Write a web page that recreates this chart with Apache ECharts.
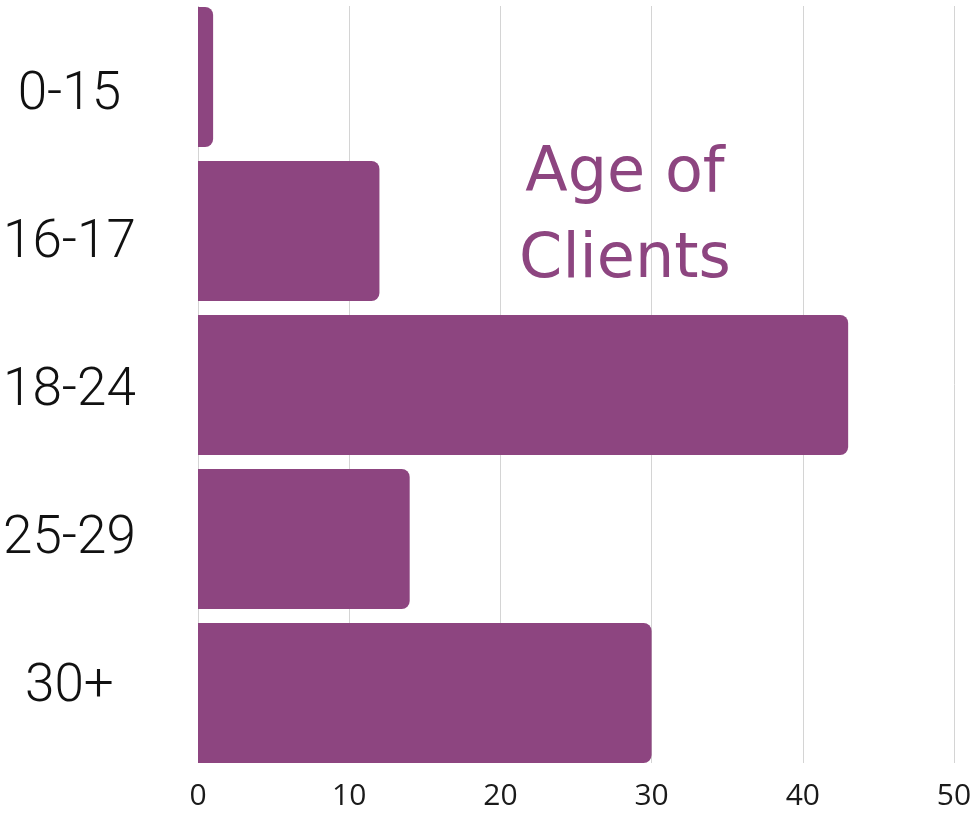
<!DOCTYPE html>
<html>
<head>
<meta charset="utf-8">
<script src="https://cdn.jsdelivr.net/npm/echarts@6/dist/echarts.min.js"></script>
<style>html,body{margin:0;padding:0;background:#fff}#c{width:977px;height:814px}</style>
</head>
<body>
<div id="c"></div>
<script>
const categories = ['0-15', '16-17', '18-24', '25-29', '30+'];
const clients = [1, 12, 43, 14, 30];
const xTicks = [0, 10, 20, 30, 40, 50];
const titleText = 'Age of\nClients';

const purple = '#8D4580';
const chart = echarts.init(document.getElementById('c'), null, {renderer: 'canvas'});
chart.setOption({
  animation: false,
  backgroundColor: '#fff',
  title: {
    text: titleText,
    left: 620,
    top: 127,
    textAlign: 'center',
    textStyle: {fontFamily: 'DejaVu Sans', fontSize: 62, fontWeight: 'normal', color: purple, lineHeight: 86}
  },
  grid: [
    {left: 198, width: 756, top: -1, height: 771},
    {left: 198, width: 756, top: 6, height: 757},
    {left: 198, width: 756, top: 22, height: 740}
  ],
  xAxis: [
    {gridIndex: 0, type: 'value', min: xTicks[0], max: xTicks[xTicks.length - 1], show: false},
    {gridIndex: 1, type: 'value', min: xTicks[0], max: xTicks[xTicks.length - 1], interval: 10,
     axisLine: {show: false}, axisTick: {show: false},
     splitLine: {show: true, lineStyle: {color: '#d4d4d4', width: 1}},
     axisLabel: {fontFamily: 'Open Sans', fontSize: 30, color: '#1a1a1a', margin: 18}},
    {gridIndex: 2, type: 'value', min: 0, max: 50, show: false}
  ],
  yAxis: [
    {gridIndex: 0, type: 'category', data: categories, inverse: true, show: false},
    {gridIndex: 1, type: 'value', show: false},
    {gridIndex: 2, type: 'category', data: categories, inverse: true,
     axisLine: {show: false}, axisTick: {show: false}, splitLine: {show: false},
     axisLabel: {fontFamily: 'Roboto', fontWeight: 300, fontSize: 53, color: '#111', align: 'center', margin: 131}}
  ],
  series: [
    {type: 'bar', xAxisIndex: 0, yAxisIndex: 0, data: clients, barWidth: 140,
     itemStyle: {color: purple, borderRadius: [0, 8, 8, 0]}}
  ]
});
</script>
</body>
</html>
